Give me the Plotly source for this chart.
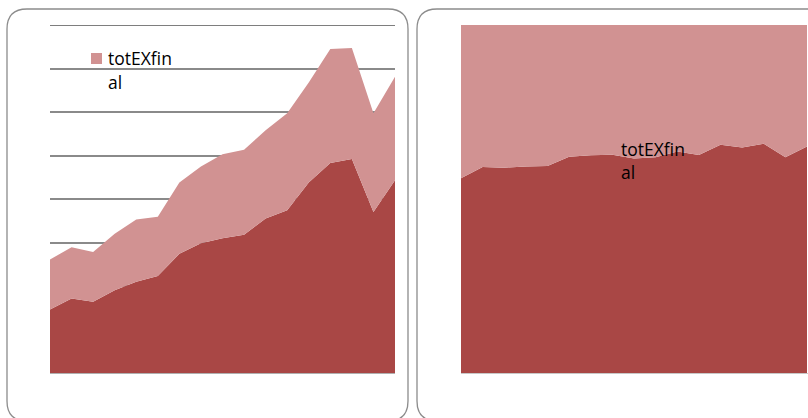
import plotly.graph_objects as go

# Periods along the horizontal axis (17 observations)
periods = list(range(1, 18))

# Lower stacked component
base_values = [1.46, 1.71, 1.64, 1.90, 2.10, 2.23, 2.74, 2.98, 3.10, 3.18,
               3.55, 3.74, 4.38, 4.83, 4.92, 3.70, 4.43]
# Upper stacked component: totEXfinal
totexfinal_values = [1.15, 1.18, 1.14, 1.30, 1.43, 1.36, 1.64, 1.77, 1.93, 1.95,
                     2.03, 2.23, 2.30, 2.62, 2.55, 2.27, 2.38]
legend_lines = ["totEXfin", "al"]

DARK = "#A94745"
LIGHT = "#D19292"
GRID = "#8A8A8A"
W, H = 808, 418
FONT = "Open Sans, Lato, sans-serif"
FONT_SIZE = 17.5


def px_x(v):
    return v / W


def px_y(v):
    return 1 - v / H


fig = go.Figure()

# Left panel: absolute stacked areas
fig.add_trace(go.Scatter(x=periods, y=base_values, stackgroup="abs", mode="none",
                         fillcolor=DARK, name="base", showlegend=False,
                         xaxis="x", yaxis="y"))
fig.add_trace(go.Scatter(x=periods, y=totexfinal_values, stackgroup="abs", mode="none",
                         fillcolor=LIGHT, name="totEXfinal", showlegend=False,
                         xaxis="x", yaxis="y"))

# Right panel: 100% stacked areas
fig.add_trace(go.Scatter(x=periods, y=base_values, stackgroup="pct", groupnorm="percent",
                         mode="none", fillcolor=DARK, name="base", showlegend=False,
                         xaxis="x2", yaxis="y2"))
fig.add_trace(go.Scatter(x=periods, y=totexfinal_values, stackgroup="pct", mode="none",
                         fillcolor=LIGHT, name="totEXfinal", showlegend=False,
                         xaxis="x2", yaxis="y2"))

ydom = [px_y(373), px_y(25)]

fig.update_layout(
    width=W, height=H,
    margin=dict(l=0, r=0, t=0, b=0),
    paper_bgcolor="white", plot_bgcolor="white",
    font=dict(family=FONT, size=FONT_SIZE, color="black"),
    showlegend=False,
    xaxis=dict(domain=[px_x(50), px_x(395)], range=[1, 17], showgrid=False,
               zeroline=False, showticklabels=False, ticks="", showline=False),
    yaxis=dict(domain=ydom, range=[0, 8], dtick=1, showgrid=True, gridcolor=GRID,
               gridwidth=1.5, zeroline=False, showticklabels=False, ticks="",
               showline=False),
    xaxis2=dict(domain=[px_x(461), px_x(807)], range=[1, 17], showgrid=False,
                zeroline=False, showticklabels=False, ticks="", showline=False,
                anchor="y2"),
    yaxis2=dict(domain=ydom, range=[0, 100], showgrid=False, zeroline=False,
                showticklabels=False, ticks="", showline=False, anchor="x2"),
    hovermode=False,
)


def rounded_rect(x0, y0, x1, y1, r):
    """SVG path for a rounded rectangle, given pixel coordinates."""
    X = lambda v: px_x(v)
    Y = lambda v: px_y(v)
    rx, ry = r / W, r / H
    return (f"M {X(x0)+rx},{Y(y0)} L {X(x1)-rx},{Y(y0)} "
            f"Q {X(x1)},{Y(y0)} {X(x1)},{Y(y0)-ry} "
            f"L {X(x1)},{Y(y1)+ry} Q {X(x1)},{Y(y1)} {X(x1)-rx},{Y(y1)} "
            f"L {X(x0)+rx},{Y(y1)} Q {X(x0)},{Y(y1)} {X(x0)},{Y(y1)+ry} "
            f"L {X(x0)},{Y(y0)-ry} Q {X(x0)},{Y(y0)} {X(x0)+rx},{Y(y0)} Z")


shapes = [
    # panel frames
    dict(type="path", xref="paper", yref="paper", path=rounded_rect(7, 9, 408, 421, 20),
         line=dict(color="#8C8C8C", width=1.3), layer="below"),
    dict(type="path", xref="paper", yref="paper", path=rounded_rect(417, 9, 830, 421, 20),
         line=dict(color="#8C8C8C", width=1.3), layer="below"),
    # top gridline of the left panel
    dict(type="line", xref="x domain", yref="y", x0=0, x1=1, y0=8, y1=8,
         line=dict(color="#7E7E7E", width=2), layer="below"),
    # baseline rules
    dict(type="line", xref="paper", yref="paper", x0=px_x(50), x1=px_x(395),
         y0=px_y(373.5), y1=px_y(373.5), line=dict(color="#B0B0B0", width=1)),
    dict(type="line", xref="paper", yref="paper", x0=px_x(461), x1=px_x(808),
         y0=px_y(373.5), y1=px_y(373.5), line=dict(color="#C8C8C8", width=1)),
    # legend key for the left panel
    dict(type="rect", xref="paper", yref="paper", x0=px_x(91), x1=px_x(102),
         y0=px_y(64), y1=px_y(53), fillcolor=LIGHT, line=dict(width=0)),
    # legend key for the right panel (sits on the same-coloured area)
    dict(type="rect", xref="paper", yref="paper", x0=px_x(604), x1=px_x(615),
         y0=px_y(154), y1=px_y(143), fillcolor=LIGHT, line=dict(width=0)),
]
fig.update_layout(shapes=shapes)

# legend labels, wrapped over two lines
annotations = []
for (lx, baseline) in [(106, 64), (619, 154)]:
    for i, txt in enumerate(legend_lines):
        annotations.append(dict(
            xref="paper", yref="paper", x=px_x(lx), y=px_y(baseline + 23.5 * i - 5.5),
            xanchor="left", yanchor="middle", text=txt, showarrow=False,
            font=dict(family=FONT, size=FONT_SIZE, color="black")))
fig.update_layout(annotations=annotations)

fig.write_html("out.html")
